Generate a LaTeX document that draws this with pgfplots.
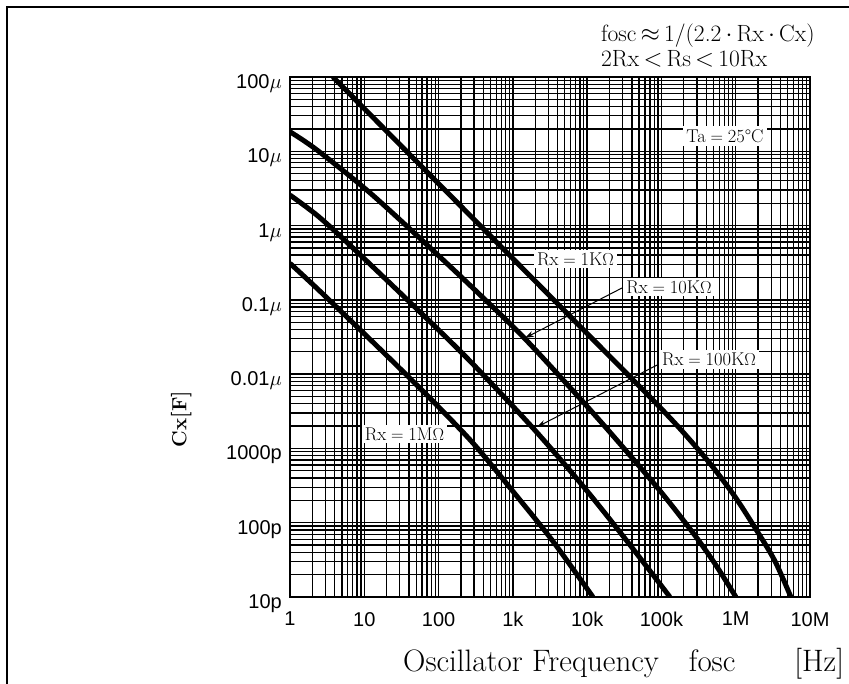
\documentclass[border=0pt]{standalone}
\usepackage{fontspec}
\setsansfont{Liberation Sans}
\usepackage{pgfplots}
\pgfplotsset{compat=1.18}
\usetikzlibrary{arrows.meta}

\newcommand\tickfont{\sffamily\fontsize{20}{24}\selectfont}
\newcommand\lblfont{\fontsize{18.5}{22}\selectfont}
\pgfplotsset{curve/.style={black, line width=5pt, smooth, mark=none}}

\begin{document}
\begin{tikzpicture}[x=1pt,y=1pt]
\useasboundingbox (0,0) rectangle (849,684);
% outer frame (cut by the page on the right and bottom)
\draw[line width=2.5pt] (7,-20) -- (7,677) -- (870,677);

\begin{axis}[
  at={(290pt,87pt)}, anchor=south west,
  width=520pt, height=520pt, scale only axis,
  xmode=log, ymode=log,
  xmin=1, xmax=1e7, ymin=1e-11, ymax=1e-4,
  xtick={1,10,100,1000,1e4,1e5,1e6,1e7},
  xticklabels={1,10,100,1k,10k,100k,1M,10M},
  ytick={1e-11,1e-10,1e-9,1e-8,1e-7,1e-6,1e-5,1e-4},
  yticklabels={10p,100p,1000p,0.01$\mu$,0.1$\mu$,1$\mu$,10$\mu$,100$\mu$},
  minor xtick={2,3,4,5,6,7,8,9,20,30,40,50,60,70,80,90,
    200,300,400,500,600,700,800,900,2e3,3e3,4e3,5e3,6e3,7e3,8e3,9e3,
    2e4,3e4,4e4,5e4,6e4,7e4,8e4,9e4,2e5,3e5,4e5,5e5,6e5,7e5,8e5,9e5,
    2e6,3e6,4e6,5e6,6e6,7e6,8e6,9e6},
  minor ytick={2e-11,3e-11,4e-11,5e-11,6e-11,7e-11,8e-11,9e-11,
    2e-10,3e-10,4e-10,5e-10,6e-10,7e-10,8e-10,9e-10,
    2e-9,3e-9,4e-9,5e-9,6e-9,7e-9,8e-9,9e-9,
    2e-8,3e-8,4e-8,5e-8,6e-8,7e-8,8e-8,9e-8,
    2e-7,3e-7,4e-7,5e-7,6e-7,7e-7,8e-7,9e-7,
    2e-6,3e-6,4e-6,5e-6,6e-6,7e-6,8e-6,9e-6,
    2e-5,3e-5,4e-5,5e-5,6e-5,7e-5,8e-5,9e-5},
  grid=both,
  major grid style={black, line width=1.3pt},
  minor grid style={black, line width=1.3pt},
  major tick length=0pt, minor tick length=0pt,
  axis line style={line width=2pt},
  xticklabel style={font=\tickfont, anchor=north, inner sep=0pt, yshift=-15pt},
  yticklabel style={font=\tickfont, anchor=base east, inner sep=0pt, xshift=-8pt, yshift=-11.5pt},
  xlabel={Oscillator Frequency\hspace{30pt}fosc\hspace{59pt}[Hz]},
  xlabel style={font=\fontsize{31}{35}\selectfont, at={(axis description cs:0.2173,-0.1423)}, anchor=base west, inner sep=0pt},
  ylabel={Cx[F]},
  ylabel style={font=\bfseries\fontsize{20.5}{24}\selectfont, at={(axis description cs:-0.209,0.342)}, anchor=center, inner sep=0pt},
]
% Rx = 1K
\addplot[curve] table {
x y
3.79 1e-4
56.2 6.56e-6
1246 2.88e-7
9342 3.767e-8
70010 4.93e-9
177400 1.847e-9
449600 6.28e-10
975400 2.245e-10
1.929e6 7.78e-11
3.37e6 3.05e-11
5.53e6 1e-11
};
% Rx = 10K
\addplot[curve] table {
x y
1 1.83e-5
2.31 1.04e-5
11.93 2.76e-6
72.0 5.35e-7
360.7 1.171e-7
1455 2.995e-8
8779 4.25e-9
27640 1.157e-9
95460 2.696e-10
265400 7.33e-11
525000 2.807e-11
1.006e6 1e-11
};
% Rx = 100K
\addplot[curve] table {
x y
1 2.573e-6
2.382 1.342e-6
6.831 5.136e-7
52.81 7.29e-8
264.6 1.501e-8
1864 1.882e-9
8779 3.119e-10
34330 5.67e-11
130100 1e-11
};
% Rx = 1M
\addplot[curve] table {
x y
1 3.10e-7
2.382 1.385e-7
11.21 3.13e-8
41.22 8.78e-9
104.4 3.465e-9
309.0 1.101e-9
1136 2.266e-10
3465 5.62e-11
11970 1e-11
};
\end{axis}

% formula in the top right corner
\node[anchor=base west, inner sep=0pt, font=\fontsize{23.5}{27}\selectfont] at (601,642)
  {fosc$\,\approx\,$1/(2.2$\,\cdot\,$Rx$\,\cdot\,$Cx)};
\node[anchor=base west, inner sep=0pt, font=\fontsize{23.5}{27}\selectfont] at (601,617)
  {2Rx$\,<\,$Rs$\,<\,$10Rx};

\node[fill=white, inner sep=3pt, font=\lblfont] at (725,548) {Ta${}={}$25°C};

% pointers to the curves
\draw[line width=1pt, -{Stealth[length=9pt,width=6pt]}] (622,396) -- (525,346);
\draw[line width=1pt, -{Stealth[length=9pt,width=6pt]}] (663,322) -- (537,257);

\node[fill=white, inner sep=3pt, font=\lblfont] at (575.5,425) {Rx${}={}$1K$\Omega$};
\node[fill=white, inner sep=3pt, font=\lblfont] at (669,397) {Rx${}={}$10K$\Omega$};
\node[fill=white, inner sep=3pt, font=\lblfont] at (709,324.5) {Rx${}={}$100K$\Omega$};
\node[fill=white, inner sep=3pt, font=\lblfont] at (404.5,250) {Rx${}={}$1M$\Omega$};
\end{tikzpicture}
\end{document}
